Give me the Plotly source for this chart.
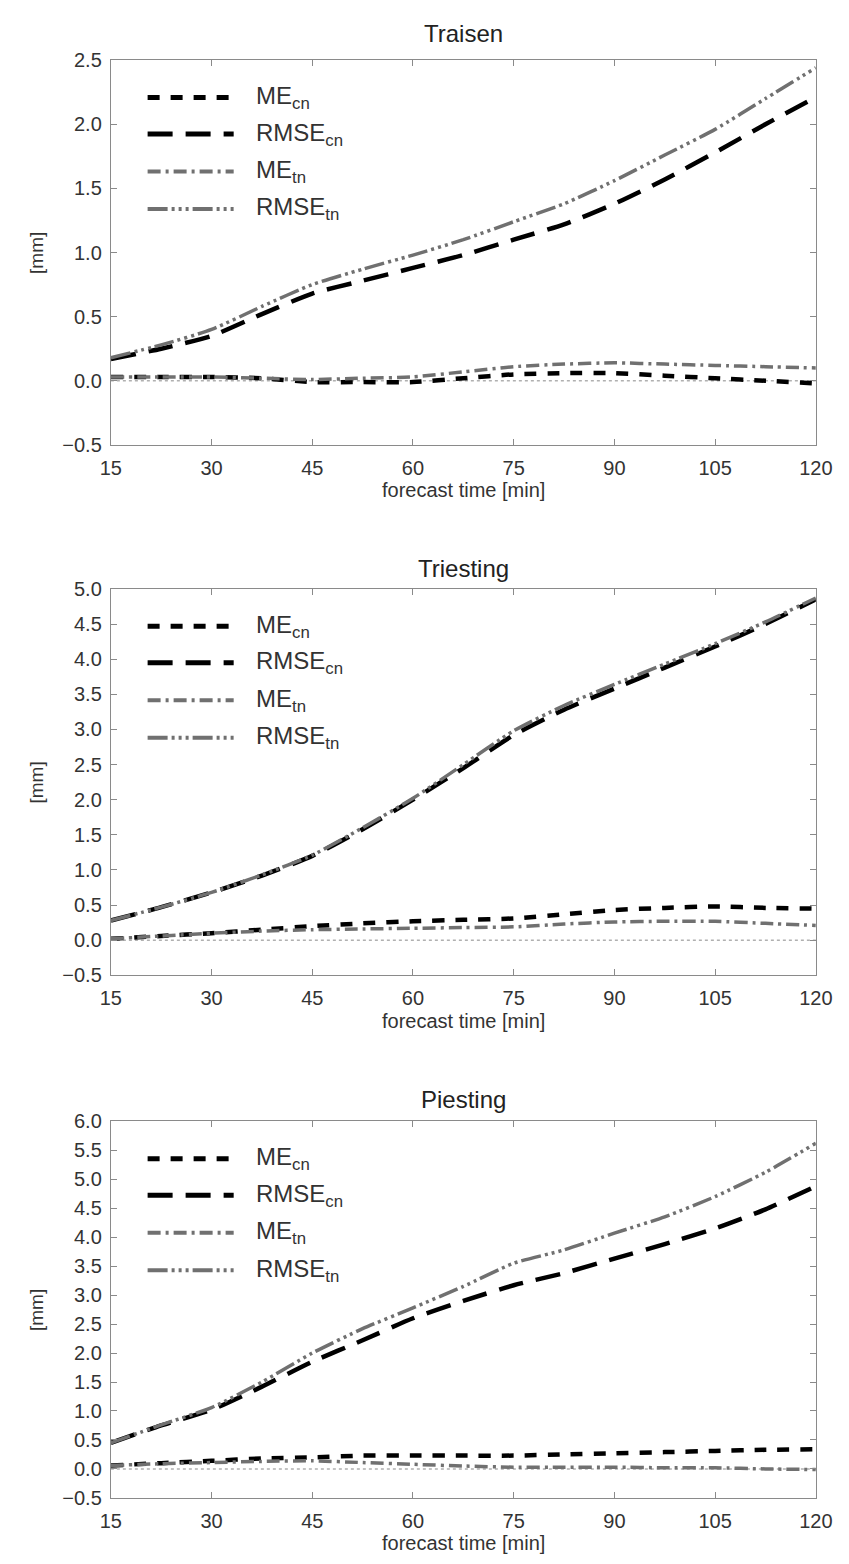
import plotly.graph_objects as go

W, H = 849, 1564

# ---------------- data ----------------
t = [15, 22.5, 30, 37.5, 45, 52.5, 60, 67.5, 75, 82.5, 90, 97.5, 105, 112.5, 120]

traisen_me_cn   = [0.03, 0.03, 0.03, 0.02, -0.01, -0.01, -0.01, 0.02, 0.05, 0.06, 0.06, 0.04, 0.02, 0.00, -0.02]
traisen_rmse_cn = [0.17, 0.25, 0.35, 0.52, 0.68, 0.78, 0.88, 0.98, 1.10, 1.22, 1.38, 1.57, 1.78, 2.00, 2.21]
traisen_me_tn   = [0.03, 0.03, 0.03, 0.02, 0.01, 0.02, 0.03, 0.07, 0.11, 0.13, 0.14, 0.13, 0.12, 0.11, 0.10]
traisen_rmse_tn = [0.18, 0.28, 0.40, 0.58, 0.75, 0.87, 0.98, 1.10, 1.24, 1.38, 1.56, 1.76, 1.96, 2.20, 2.44]

triesting_me_cn   = [0.02, 0.06, 0.10, 0.15, 0.20, 0.24, 0.27, 0.29, 0.31, 0.37, 0.43, 0.46, 0.48, 0.46, 0.45]
triesting_rmse_cn = [0.28, 0.47, 0.68, 0.92, 1.20, 1.58, 2.00, 2.45, 2.92, 3.28, 3.58, 3.88, 4.18, 4.50, 4.85]
triesting_me_tn   = [0.02, 0.06, 0.10, 0.13, 0.15, 0.16, 0.17, 0.18, 0.19, 0.23, 0.26, 0.27, 0.27, 0.24, 0.21]
triesting_rmse_tn = [0.28, 0.47, 0.68, 0.93, 1.21, 1.60, 2.02, 2.50, 2.98, 3.34, 3.64, 3.93, 4.22, 4.53, 4.87]

piesting_me_cn   = [0.06, 0.10, 0.14, 0.18, 0.20, 0.23, 0.23, 0.23, 0.23, 0.25, 0.27, 0.29, 0.31, 0.33, 0.34]
piesting_rmse_cn = [0.45, 0.75, 1.02, 1.42, 1.85, 2.22, 2.60, 2.90, 3.17, 3.38, 3.63, 3.88, 4.15, 4.48, 4.88]
piesting_me_tn   = [0.06, 0.09, 0.11, 0.13, 0.14, 0.11, 0.08, 0.05, 0.03, 0.03, 0.03, 0.02, 0.02, 0.00, -0.01]
piesting_rmse_tn = [0.45, 0.76, 1.06, 1.50, 2.00, 2.42, 2.78, 3.15, 3.55, 3.78, 4.07, 4.35, 4.70, 5.12, 5.62]

titles = ["Traisen", "Triesting", "Piesting"]
series_names = ["ME<sub>cn</sub>", "RMSE<sub>cn</sub>", "ME<sub>tn</sub>", "RMSE<sub>tn</sub>"]
x_ticks = [15, 30, 45, 60, 75, 90, 105, 120]
y_ranges = [[-0.5, 2.5], [-0.5, 5.0], [-0.5, 6.0]]

panels = [
    [traisen_me_cn, traisen_rmse_cn, traisen_me_tn, traisen_rmse_tn],
    [triesting_me_cn, triesting_rmse_cn, triesting_me_tn, triesting_rmse_tn],
    [piesting_me_cn, piesting_rmse_cn, piesting_me_tn, piesting_rmse_tn],
]

# ---------------- styles ----------------
FONT = "Liberation Sans, Arial, sans-serif"
GREY = "#707070"
styles = [
    dict(color="black", width=4.5, dash="12px,11px"),
    dict(color="black", width=4.5, dash="25px,13px"),
    dict(color=GREY, width=3.5, dash="13px,5px,3px,5px"),
    dict(color=GREY, width=3.5, dash="20px,4px,3px,4px,3px,4px,3px,4px"),
]

# panel pixel geometry (top, bottom)
px_left, px_right = 95, 824
panel_px = [(41.7, 432), (578, 970), (1118, 1500)]
title_px = [15, 557, 1096]

def py(v):  # pixel y -> paper y
    return 1 - v / H

fig = go.Figure()
annotations = []
shapes = []

for i, (vals, (top, bot)) in enumerate(zip(panels, panel_px)):
    n = "" if i == 0 else str(i + 1)
    xa, ya = "x" + n, "y" + n
    for s, (name, yv, st) in enumerate(zip(series_names, vals, styles)):
        fig.add_trace(go.Scatter(x=t, y=yv, mode="lines", name=name, showlegend=False,
                                 line=dict(color=st["color"], width=st["width"], dash=st["dash"],
                                           shape="spline", smoothing=0.6),
                                 xaxis=xa, yaxis=ya))
    axis_common = dict(showgrid=False, zeroline=False, showline=True, linecolor="#8a8a8a", linewidth=1.2,
                       mirror="ticks", ticks="inside", ticklen=6, tickcolor="#8a8a8a", tickwidth=1.2,
                       tickfont=dict(family=FONT, size=20, color="#333"))
    fig.update_layout(**{
        ("xaxis" + n): dict(domain=[px_left / W, px_right / W], anchor=ya, range=[15, 120],
                            tickmode="array", tickvals=x_ticks, ticktext=[str(v) for v in x_ticks],
                            ticklabelstandoff=5, **axis_common),
        ("yaxis" + n): dict(domain=[py(bot), py(top)], anchor=xa, range=y_ranges[i],
                            tick0=-0.5, dtick=0.5, tickformat=".1f", ticklabelstandoff=4, **axis_common),
    })
    # dotted zero line
    shapes.append(dict(type="line", xref=xa + " domain", x0=0, x1=1, yref=ya, y0=0, y1=0,
                       line=dict(color="#b0b0b0", width=1.5, dash="dot"), layer="below"))
    # title
    annotations.append(dict(text=titles[i], xref="paper", yref="paper", x=(px_left + px_right) / 2 / W,
                            y=py(title_px[i]), xanchor="center", yanchor="middle", showarrow=False,
                            font=dict(family=FONT, size=24, color="#222")))
    # x axis title
    annotations.append(dict(text="forecast time [min]", xref="paper", yref="paper",
                            x=(px_left + px_right) / 2 / W,
                            y=py(bot + 46), xanchor="center", yanchor="middle", showarrow=False,
                            font=dict(family=FONT, size=20, color="#333")))
    # y axis title
    annotations.append(dict(text="[mm]", xref="paper", yref="paper", x=18 / W, y=py((top + bot) / 2),
                            xanchor="center", yanchor="middle", textangle=-90, showarrow=False,
                            font=dict(family=FONT, size=19, color="#333")))
    # legend (drawn manually inside the axes)
    hpx = bot - top
    wpx = px_right - px_left
    for k, off in enumerate([38, 75, 113, 151]):
        yd = 1 - off / hpx
        st = styles[k]
        shapes.append(dict(type="line", xref=xa + " domain", yref=ya + " domain",
                           x0=(133 - px_left) / wpx, x1=(222 - px_left) / wpx, y0=yd, y1=yd,
                           line=dict(color=st["color"], width=st["width"] + 0.5, dash=st["dash"])))
        annotations.append(dict(text=series_names[k], xref=xa + " domain", yref=ya + " domain",
                                x=(243 - px_left) / wpx, y=yd, xanchor="left", yanchor="middle",
                                showarrow=False, font=dict(family=FONT, size=24, color="#333")))

fig.update_layout(width=W, height=H, margin=dict(l=0, r=0, t=0, b=0),
                  paper_bgcolor="white", plot_bgcolor="white", showlegend=False,
                  annotations=annotations, shapes=shapes)

fig.write_html("out.html")
